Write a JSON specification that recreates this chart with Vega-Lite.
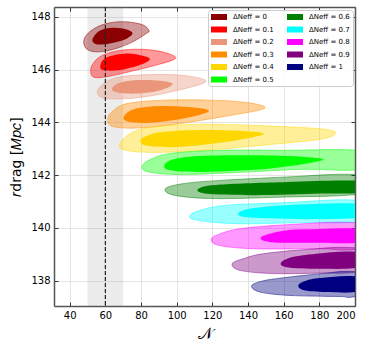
{
  "$schema": "https://vega.github.io/schema/vega-lite/v6.json",
  "width": 301,
  "height": 299,
  "autosize": {"type": "none"},
  "padding": {"left": 54, "top": 7, "right": 18, "bottom": 42},
  "config": {
    "font": "DejaVu Sans",
    "view": {"stroke": null},
    "axis": {"labelFont": "DejaVu Sans", "titleFont": "DejaVu Sans", "labelColor": "#000", "titleColor": "#000", "titleFontWeight": "normal"}
  },
  "datasets": {
    "band": [{"lo": 50, "hi": 70}],
    "ref": [{"n": 60}],
    "outer": [
      {"dn":"0","i":0,"x":47.86,"y":147.01},{"dn":"0","i":1,"x":50.27,"y":146.74},{"dn":"0","i":2,"x":56.84,"y":146.67},{"dn":"0","i":3,"x":66.22,"y":146.8},{"dn":"0","i":4,"x":75.37,"y":147.05},{"dn":"0","i":5,"x":83.06,"y":147.37},{"dn":"0","i":6,"x":84.52,"y":147.47},{"dn":"0","i":7,"x":81.15,"y":147.69},{"dn":"0","i":8,"x":71.83,"y":147.81},{"dn":"0","i":9,"x":62.46,"y":147.77},{"dn":"0","i":10,"x":54.99,"y":147.6},{"dn":"0","i":11,"x":49.38,"y":147.31},
      {"dn":"0.1","i":0,"x":51.79,"y":145.91},{"dn":"0.1","i":1,"x":54.04,"y":145.7},{"dn":"0.1","i":2,"x":62.46,"y":145.75},{"dn":"0.1","i":3,"x":75.54,"y":145.95},{"dn":"0.1","i":4,"x":88.67,"y":146.17},{"dn":"0.1","i":5,"x":99.34,"y":146.42},{"dn":"0.1","i":6,"x":94.29,"y":146.63},{"dn":"0.1","i":7,"x":83.06,"y":146.76},{"dn":"0.1","i":8,"x":69.92,"y":146.74},{"dn":"0.1","i":9,"x":58.69,"y":146.55},{"dn":"0.1","i":10,"x":53.08,"y":146.23},
      {"dn":"0.2","i":0,"x":55.44,"y":145.11},{"dn":"0.2","i":1,"x":60.94,"y":144.9},{"dn":"0.2","i":2,"x":77.78,"y":144.93},{"dn":"0.2","i":3,"x":96.53,"y":145.15},{"dn":"0.2","i":4,"x":116.18,"y":145.53},{"dn":"0.2","i":5,"x":105.85,"y":145.76},{"dn":"0.2","i":6,"x":87.16,"y":145.81},{"dn":"0.2","i":7,"x":68.46,"y":145.72},{"dn":"0.2","i":8,"x":59.09,"y":145.47},
      {"dn":"0.3","i":0,"x":61.33,"y":144.08},{"dn":"0.3","i":1,"x":64.7,"y":143.83},{"dn":"0.3","i":2,"x":79.69,"y":143.79},{"dn":"0.3","i":3,"x":102.15,"y":143.96},{"dn":"0.3","i":4,"x":128.31,"y":144.24},{"dn":"0.3","i":5,"x":149.31,"y":144.53},{"dn":"0.3","i":6,"x":139.54,"y":144.75},{"dn":"0.3","i":7,"x":118.99,"y":144.84},{"dn":"0.3","i":8,"x":92.77,"y":144.84},{"dn":"0.3","i":9,"x":72.17,"y":144.71},{"dn":"0.3","i":10,"x":63.75,"y":144.4},
      {"dn":"0.4","i":0,"x":68.07,"y":143.16},{"dn":"0.4","i":1,"x":71.27,"y":142.94},{"dn":"0.4","i":2,"x":87.16,"y":142.86},{"dn":"0.4","i":3,"x":115.23,"y":142.94},{"dn":"0.4","i":4,"x":152.67,"y":143.16},{"dn":"0.4","i":5,"x":180.74,"y":143.36},{"dn":"0.4","i":6,"x":189.16,"y":143.58},{"dn":"0.4","i":7,"x":182.6,"y":143.74},{"dn":"0.4","i":8,"x":152.67,"y":143.86},{"dn":"0.4","i":9,"x":115.23,"y":143.93},{"dn":"0.4","i":10,"x":87.16,"y":143.83},{"dn":"0.4","i":11,"x":74.08,"y":143.58},
      {"dn":"0.5","i":0,"x":80.59,"y":142.31},{"dn":"0.5","i":1,"x":84.35,"y":142.12},{"dn":"0.5","i":2,"x":102.15,"y":142.02},{"dn":"0.5","i":3,"x":133.92,"y":142.1},{"dn":"0.5","i":4,"x":171.37,"y":142.22},{"dn":"0.5","i":5,"x":200.56,"y":142.2},{"dn":"0.5","i":6,"x":219.65,"y":142.56},{"dn":"0.5","i":7,"x":200.56,"y":142.94},{"dn":"0.5","i":8,"x":161.99,"y":142.94},{"dn":"0.5","i":9,"x":124.6,"y":142.94},{"dn":"0.5","i":10,"x":96.53,"y":142.82},{"dn":"0.5","i":11,"x":84.35,"y":142.56},
      {"dn":"0.6","i":0,"x":93.73,"y":141.49},{"dn":"0.6","i":1,"x":98.39,"y":141.24},{"dn":"0.6","i":2,"x":120.84,"y":141.11},{"dn":"0.6","i":3,"x":161.99,"y":141.17},{"dn":"0.6","i":4,"x":200.56,"y":141.26},{"dn":"0.6","i":5,"x":236,"y":141.65},{"dn":"0.6","i":6,"x":200.56,"y":142.02},{"dn":"0.6","i":7,"x":161.99,"y":141.93},{"dn":"0.6","i":8,"x":124.6,"y":141.8},{"dn":"0.6","i":9,"x":104,"y":141.68},
      {"dn":"0.7","i":0,"x":107.37,"y":140.46},{"dn":"0.7","i":1,"x":111.47,"y":140.29},{"dn":"0.7","i":2,"x":133.92,"y":140.16},{"dn":"0.7","i":3,"x":171.37,"y":140.2},{"dn":"0.7","i":4,"x":200.56,"y":140.22},{"dn":"0.7","i":5,"x":236,"y":140.63},{"dn":"0.7","i":6,"x":200.56,"y":141.05},{"dn":"0.7","i":7,"x":161.99,"y":140.96},{"dn":"0.7","i":8,"x":128.31,"y":140.86},{"dn":"0.7","i":9,"x":113.38,"y":140.67},
      {"dn":"0.8","i":0,"x":119.44,"y":139.58},{"dn":"0.8","i":1,"x":123.65,"y":139.34},{"dn":"0.8","i":2,"x":143.3,"y":139.21},{"dn":"0.8","i":3,"x":180.74,"y":139.21},{"dn":"0.8","i":4,"x":200.56,"y":139.19},{"dn":"0.8","i":5,"x":236,"y":139.68},{"dn":"0.8","i":6,"x":200.56,"y":140.19},{"dn":"0.8","i":7,"x":161.99,"y":140.12},{"dn":"0.8","i":8,"x":135.83,"y":139.97},{"dn":"0.8","i":9,"x":124.6,"y":139.78},
      {"dn":"0.9","i":0,"x":131.11,"y":138.64},{"dn":"0.9","i":1,"x":135.43,"y":138.39},{"dn":"0.9","i":2,"x":154.13,"y":138.27},{"dn":"0.9","i":3,"x":182.2,"y":138.29},{"dn":"0.9","i":4,"x":200.56,"y":138.33},{"dn":"0.9","i":5,"x":236,"y":138.77},{"dn":"0.9","i":6,"x":200.56,"y":139.24},{"dn":"0.9","i":7,"x":172.87,"y":139.18},{"dn":"0.9","i":8,"x":148.52,"y":139.02},{"dn":"0.9","i":9,"x":137.29,"y":138.83},
      {"dn":"1","i":0,"x":142,"y":137.8},{"dn":"1","i":1,"x":146.66,"y":137.57},{"dn":"1","i":2,"x":163.51,"y":137.44},{"dn":"1","i":3,"x":191.58,"y":137.4},{"dn":"1","i":4,"x":200.56,"y":137.4},{"dn":"1","i":5,"x":236,"y":137.86},{"dn":"1","i":6,"x":200.56,"y":138.33},{"dn":"1","i":7,"x":182.2,"y":138.27},{"dn":"1","i":8,"x":159.74,"y":138.11},{"dn":"1","i":9,"x":147.62,"y":137.98}
    ],
    "inner": [
      {"dn":"0","i":0,"x":52.74,"y":147.14},{"dn":"0","i":1,"x":54.99,"y":146.96},{"dn":"0","i":2,"x":62.46,"y":146.99},{"dn":"0","i":3,"x":70.88,"y":147.14},{"dn":"0","i":4,"x":75.2,"y":147.37},{"dn":"0","i":5,"x":71.83,"y":147.52},{"dn":"0","i":6,"x":64.31,"y":147.58},{"dn":"0","i":7,"x":56.84,"y":147.47},
      {"dn":"0.1","i":0,"x":57.24,"y":146.17},{"dn":"0.1","i":1,"x":58.69,"y":145.98},{"dn":"0.1","i":2,"x":68.07,"y":145.98},{"dn":"0.1","i":3,"x":79.3,"y":146.17},{"dn":"0.1","i":4,"x":84.91,"y":146.38},{"dn":"0.1","i":5,"x":81.15,"y":146.52},{"dn":"0.1","i":6,"x":71.83,"y":146.61},{"dn":"0.1","i":7,"x":60.6,"y":146.46},
      {"dn":"0.2","i":0,"x":63.75,"y":145.28},{"dn":"0.2","i":1,"x":66.55,"y":145.13},{"dn":"0.2","i":2,"x":77.78,"y":145.09},{"dn":"0.2","i":3,"x":90.92,"y":145.22},{"dn":"0.2","i":4,"x":97.82,"y":145.44},{"dn":"0.2","i":5,"x":92.77,"y":145.56},{"dn":"0.2","i":6,"x":79.69,"y":145.6},{"dn":"0.2","i":7,"x":68.46,"y":145.51},
      {"dn":"0.3","i":0,"x":70.32,"y":144.21},{"dn":"0.3","i":1,"x":73.12,"y":144.02},{"dn":"0.3","i":2,"x":87.16,"y":143.99},{"dn":"0.3","i":3,"x":105.85,"y":144.17},{"dn":"0.3","i":4,"x":118.04,"y":144.42},{"dn":"0.3","i":5,"x":109.61,"y":144.56},{"dn":"0.3","i":6,"x":90.92,"y":144.62},{"dn":"0.3","i":7,"x":75.93,"y":144.5},
      {"dn":"0.4","i":0,"x":79.69,"y":143.32},{"dn":"0.4","i":1,"x":83.4,"y":143.11},{"dn":"0.4","i":2,"x":102.15,"y":143.07},{"dn":"0.4","i":3,"x":128.31,"y":143.26},{"dn":"0.4","i":4,"x":148.52,"y":143.54},{"dn":"0.4","i":5,"x":139.54,"y":143.66},{"dn":"0.4","i":6,"x":115.23,"y":143.71},{"dn":"0.4","i":7,"x":92.77,"y":143.64},{"dn":"0.4","i":8,"x":83.4,"y":143.49},
      {"dn":"0.5","i":0,"x":93.16,"y":142.37},{"dn":"0.5","i":1,"x":96.53,"y":142.18},{"dn":"0.5","i":2,"x":115.23,"y":142.12},{"dn":"0.5","i":3,"x":152.67,"y":142.25},{"dn":"0.5","i":4,"x":181.64,"y":142.56},{"dn":"0.5","i":5,"x":171.37,"y":142.69},{"dn":"0.5","i":6,"x":143.3,"y":142.75},{"dn":"0.5","i":7,"x":115.23,"y":142.73},{"dn":"0.5","i":8,"x":98.38,"y":142.6},
      {"dn":"0.6","i":0,"x":112.42,"y":141.49},{"dn":"0.6","i":1,"x":116.18,"y":141.3},{"dn":"0.6","i":2,"x":143.3,"y":141.24},{"dn":"0.6","i":3,"x":180.74,"y":141.3},{"dn":"0.6","i":4,"x":200.56,"y":141.32},{"dn":"0.6","i":5,"x":225.26,"y":141.54},{"dn":"0.6","i":6,"x":200.56,"y":141.79},{"dn":"0.6","i":7,"x":161.99,"y":141.74},{"dn":"0.6","i":8,"x":124.6,"y":141.64},
      {"dn":"0.7","i":0,"x":134.87,"y":140.58},{"dn":"0.7","i":1,"x":138.63,"y":140.41},{"dn":"0.7","i":2,"x":161.99,"y":140.35},{"dn":"0.7","i":3,"x":200.56,"y":140.37},{"dn":"0.7","i":4,"x":225.26,"y":140.65},{"dn":"0.7","i":5,"x":200.56,"y":140.92},{"dn":"0.7","i":6,"x":161.99,"y":140.86},{"dn":"0.7","i":7,"x":143.3,"y":140.75},
      {"dn":"0.8","i":0,"x":147.79,"y":139.67},{"dn":"0.8","i":1,"x":152.67,"y":139.46},{"dn":"0.8","i":2,"x":180.74,"y":139.44},{"dn":"0.8","i":3,"x":200.56,"y":139.43},{"dn":"0.8","i":4,"x":225.26,"y":139.68},{"dn":"0.8","i":5,"x":200.56,"y":139.97},{"dn":"0.8","i":6,"x":180.74,"y":139.96},{"dn":"0.8","i":7,"x":161.99,"y":139.91},
      {"dn":"0.9","i":0,"x":158.29,"y":138.64},{"dn":"0.9","i":1,"x":163.52,"y":138.49},{"dn":"0.9","i":2,"x":182.2,"y":138.45},{"dn":"0.9","i":3,"x":200.56,"y":138.48},{"dn":"0.9","i":4,"x":225.26,"y":138.77},{"dn":"0.9","i":5,"x":200.56,"y":139.09},{"dn":"0.9","i":6,"x":178.5,"y":139.02},{"dn":"0.9","i":7,"x":163.52,"y":138.87},
      {"dn":"1","i":0,"x":168.17,"y":137.82},{"dn":"1","i":1,"x":171.93,"y":137.63},{"dn":"1","i":2,"x":185.96,"y":137.57},{"dn":"1","i":3,"x":200.56,"y":137.57},{"dn":"1","i":4,"x":225.26,"y":137.86},{"dn":"1","i":5,"x":200.56,"y":138.16},{"dn":"1","i":6,"x":182.2,"y":138.11},{"dn":"1","i":7,"x":172.87,"y":138.01}
    ]
  },
  "layer": [
    {
      "data": {"name": "band"},
      "mark": {"type": "rect", "fill": "#808080", "opacity": 0.15},
      "encoding": {
        "x": {"field": "lo", "type": "quantitative", "scale": {"domain": [31.2, 200], "nice": false, "zero": false}, "axis": null},
        "x2": {"field": "hi"}
      }
    },
    {
      "data": {"name": "outer"},
      "mark": {"type": "line", "interpolate": "cardinal-closed", "clip": true, "fillOpacity": 0.4, "strokeOpacity": 0.6, "strokeWidth": 0.8},
      "encoding": {
        "x": {"field": "x", "type": "quantitative", "scale": {"domain": [31.2, 200], "nice": false, "zero": false},
          "axis": {"orient": "bottom", "values": [40, 60, 80, 100, 120, 140, 160, 180, 200], "grid": true, "gridColor": "#dddddd", "gridWidth": 0.8, "tickSize": -4, "tickColor": "#333", "domainColor": "#555", "domainWidth": 1.5, "labelFontSize": 10, "labelPadding": 8, "title": "𝒩", "titleFontSize": 16, "titlePadding": 5}},
        "y": {"field": "y", "type": "quantitative", "scale": {"domain": [137.04, 148.37], "nice": false, "zero": false},
          "axis": {"orient": "left", "values": [138, 140, 142, 144, 146, 148], "grid": true, "gridColor": "#dddddd", "gridWidth": 0.8, "tickSize": -4, "tickColor": "#333", "domainColor": "#555", "domainWidth": 1.5, "labelFontSize": 10, "labelPadding": 8, "title": "𝑟drag [𝑀𝑝𝑐]", "titleFontSize": 14, "titlePadding": 7}},
        "fill": {"field": "dn", "type": "nominal", "scale": {"domain": ["0","0.1","0.2","0.3","0.4","0.5","0.6","0.7","0.8","0.9","1"], "range": ["#8b0000","#ff0000","#e9967a","#ff8c00","#ffd700","#00ff00","#008000","#00ffff","#ff00ff","#800080","#000080"]}, "legend": null},
        "stroke": {"field": "dn", "type": "nominal", "scale": {"domain": ["0","0.1","0.2","0.3","0.4","0.5","0.6","0.7","0.8","0.9","1"], "range": ["#8b0000","#ff0000","#e9967a","#ff8c00","#ffd700","#00ff00","#008000","#00ffff","#ff00ff","#800080","#000080"]}, "legend": null},
        "detail": {"field": "dn"},
        "order": {"field": "i", "type": "quantitative"}
      }
    },
    {
      "data": {"name": "inner"},
      "mark": {"type": "line", "interpolate": "cardinal-closed", "clip": true, "fillOpacity": 1, "strokeOpacity": 0},
      "encoding": {
        "x": {"field": "x", "type": "quantitative", "scale": {"domain": [31.2, 200], "nice": false, "zero": false},
          "axis": {"orient": "top", "values": [40, 60, 80, 100, 120, 140, 160, 180, 200], "grid": false, "labels": false, "tickSize": -4, "tickColor": "#333", "domainColor": "#555", "domainWidth": 1.5, "title": null}},
        "y": {"field": "y", "type": "quantitative", "scale": {"domain": [137.04, 148.37], "nice": false, "zero": false},
          "axis": {"orient": "right", "values": [138, 140, 142, 144, 146, 148], "grid": false, "labels": false, "tickSize": -4, "tickColor": "#333", "domainColor": "#555", "domainWidth": 1.5, "title": null}},
        "fill": {"field": "dn", "type": "nominal", "scale": {"domain": ["0","0.1","0.2","0.3","0.4","0.5","0.6","0.7","0.8","0.9","1"], "range": ["#8b0000","#ff0000","#e9967a","#ff8c00","#ffd700","#00ff00","#008000","#00ffff","#ff00ff","#800080","#000080"]},
          "legend": {"title": null, "orient": "none", "legendX": 154, "legendY": 3, "columns": 2, "fillColor": "rgba(255,255,255,0.85)", "strokeColor": "#cccccc", "cornerRadius": 3, "padding": 3, "labelFontSize": 7, "labelFont": "DejaVu Sans", "labelColor": "#000", "rowPadding": 5.5, "columnPadding": 13, "symbolType": "M-2,-0.75H2V0.75H-2Z", "symbolSize": 64, "symbolOffset": 4, "labelOffset": 10, "symbolStrokeWidth": 0, "symbolOpacity": 1, "labelExpr": "'ΔNeff = ' + datum.label"}},
        "detail": {"field": "dn"},
        "order": {"field": "i", "type": "quantitative"}
      }
    },
    {
      "data": {"name": "ref"},
      "mark": {"type": "rule", "color": "#222", "strokeDash": [4, 2], "strokeWidth": 1.2},
      "encoding": {
        "x": {"field": "n", "type": "quantitative", "scale": {"domain": [31.2, 200], "nice": false, "zero": false}, "axis": null}
      }
    }
  ],
  "resolve": {"axis": {"x": "independent", "y": "independent"}, "legend": {"fill": "independent"}}
}
